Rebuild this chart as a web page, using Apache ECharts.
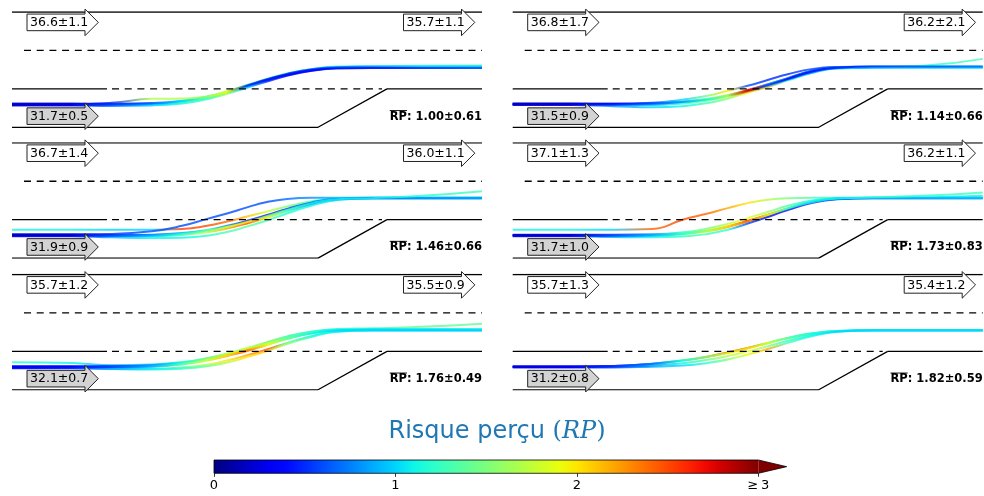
<!DOCTYPE html>
<html><head><meta charset="utf-8">
<script src="https://cdn.jsdelivr.net/npm/echarts@6/dist/echarts.min.js"></script>
<style>html,body{margin:0;padding:0;background:#fff}#c{width:984px;height:496px}</style>
</head><body><div id="c"></div>
<script>
// ---------- DATA ----------
const xSamples = [0,60,100,140,170,195,215,235,255,275,300,325,360,410,470];
const topLeftSpeeds  = ['36.6±1.1','36.8±1.7','36.7±1.4','37.1±1.3','35.7±1.2','35.7±1.3'];
const topRightSpeeds = ['35.7±1.1','36.2±2.1','36.0±1.1','36.2±1.1','35.5±0.9','35.4±1.2'];
const mergeSpeeds    = ['31.7±0.5','31.5±0.9','31.9±0.9','31.7±1.0','32.1±0.7','31.2±0.8'];
const rpMeans = ['1.00','1.14','1.46','1.73','1.76','1.82'];
const rpStds  = ['0.61','0.66','0.66','0.83','0.49','0.59'];
const colorbarTicks = [0,1,2,3];
const colorbarTickLabels = ['0','1','2','≥\u20093'];
// road geometry (x along road, y in lane widths)
const roadSolid  = [[[0,3],[470,3]], [[0,1],[95,1]], [[375,1],[470,1]], [[0,0],[306,0],[375,1]]];
const roadDashed = [[[12,2],[470,2]], [[100,1],[370,1]]];

// trajectories: lateral position (lane widths) at xSamples
const p1Y = [
 [0.60,0.60,0.59,0.61,0.67,0.78,0.92,1.08,1.24,1.38,1.50,1.56,1.57,1.57,1.58],
 [0.58,0.58,0.57,0.59,0.65,0.76,0.90,1.06,1.22,1.36,1.48,1.54,1.55,1.55,1.55],
 [0.62,0.62,0.61,0.63,0.69,0.80,0.94,1.10,1.26,1.40,1.52,1.58,1.59,1.60,1.61],
 [0.59,0.59,0.58,0.61,0.68,0.79,0.93,1.09,1.25,1.39,1.51,1.56,1.58,1.58,1.58],
 [0.60,0.60,0.64,0.74,0.75,0.80,0.92,1.07,1.23,1.37,1.49,1.55,1.57,1.57,1.57],
 [0.57,0.57,0.56,0.57,0.62,0.73,0.87,1.03,1.19,1.34,1.47,1.53,1.54,1.54,1.54]];
const p1RP = [
 [0.2,0.2,0.5,0.8,1.2,1.6,2.3,0.3,0.2,0.3,0.4,0.5,0.7,0.9,1.1],
 [0.2,0.25,0.6,0.9,1.3,1.5,2.0,0.2,0.2,0.2,0.3,0.5,0.5,0.6,0.7],
 [0.2,0.2,0.4,0.6,1.0,1.4,1.7,1.4,1.3,1.3,1.2,1.2,1.1,1.2,1.3],
 [0.15,0.2,0.5,0.7,1.0,1.3,1.8,0.6,0.5,0.5,0.6,0.8,0.9,1.0,1.0],
 [0.2,0.2,0.5,1.7,1.7,1.6,1.9,0.5,0.4,0.4,0.4,0.6,0.8,1.0,1.0],
 [0.2,0.3,0.7,1.0,1.1,1.2,1.6,1.0,0.5,0.4,0.4,0.4,0.4,0.5,0.6]];
const p2Y = [
 [0.60,0.60,0.60,0.62,0.67,0.74,0.84,0.97,1.12,1.28,1.48,1.56,1.57,1.57,1.57],
 [0.59,0.59,0.59,0.61,0.66,0.73,0.83,0.96,1.11,1.27,1.47,1.55,1.56,1.56,1.56],
 [0.61,0.61,0.61,0.64,0.72,0.82,0.95,1.08,1.23,1.38,1.52,1.57,1.58,1.58,1.58],
 [0.58,0.58,0.55,0.52,0.55,0.63,0.75,0.90,1.05,1.22,1.42,1.53,1.55,1.55,1.55],
 [0.60,0.60,0.58,0.58,0.62,0.70,0.80,0.93,1.08,1.24,1.44,1.54,1.56,1.60,1.78],
 [0.62,0.62,0.61,0.62,0.66,0.72,0.82,0.95,1.10,1.26,1.46,1.55,1.58,1.58,1.58]];
const p2RP = [
 [0.2,0.2,0.4,0.6,0.9,1.2,1.7,2.6,0.6,0.4,0.4,0.5,0.6,0.7,0.8],
 [0.2,0.2,0.5,0.8,1.1,1.5,2.0,2.7,1.2,0.9,0.8,0.8,0.9,1.0,1.0],
 [0.2,0.2,0.4,0.6,1.0,1.5,2.0,0.6,0.5,0.5,0.6,0.7,0.8,0.9,1.0],
 [0.2,0.3,0.8,1.0,1.1,1.3,1.5,1.9,2.2,1.2,0.9,0.9,0.9,1.0,1.0],
 [0.2,0.2,0.6,0.9,1.2,1.4,1.8,2.4,0.9,0.7,0.7,0.9,1.0,1.2,1.3],
 [0.15,0.2,0.4,0.6,0.8,1.1,1.5,2.8,0.5,0.3,0.4,0.4,0.5,0.6,0.7]];
const p3Y = [
 [0.74,0.74,0.74,0.74,0.76,0.84,0.95,1.08,1.21,1.34,1.48,1.55,1.57,1.57,1.57],
 [0.62,0.62,0.63,0.70,0.84,1.02,1.16,1.32,1.46,1.54,1.57,1.57,1.57,1.57,1.57],
 [0.60,0.60,0.59,0.60,0.64,0.72,0.82,0.95,1.10,1.26,1.44,1.54,1.57,1.57,1.57],
 [0.58,0.58,0.57,0.57,0.60,0.67,0.77,0.90,1.05,1.22,1.41,1.53,1.56,1.56,1.56],
 [0.57,0.57,0.54,0.52,0.53,0.58,0.68,0.82,0.98,1.16,1.37,1.51,1.56,1.56,1.56],
 [0.61,0.61,0.60,0.61,0.65,0.73,0.84,0.97,1.12,1.28,1.45,1.54,1.56,1.56,1.56],
 [0.59,0.59,0.58,0.59,0.63,0.71,0.81,0.94,1.09,1.25,1.43,1.53,1.56,1.62,1.74]];
const p3RP = [
 [1.1,1.1,1.0,1.0,2.5,2.5,2.4,2.1,1.8,1.5,1.3,1.1,1.0,1.0,1.0],
 [0.2,0.3,0.5,0.6,0.6,0.6,0.6,0.6,0.6,0.7,0.8,0.9,0.9,0.9,1.0],
 [0.2,0.2,0.6,0.9,1.2,1.6,1.9,2.1,1.8,1.4,1.2,1.1,1.0,1.0,1.0],
 [0.2,0.3,0.7,1.0,1.3,1.7,2.2,2.5,2.0,1.2,0.7,0.6,0.6,0.7,0.8],
 [0.3,0.4,0.9,1.1,1.1,1.2,1.3,1.4,1.3,1.2,1.1,1.0,1.0,1.0,1.0],
 [0.2,0.2,0.5,0.7,0.9,1.1,0.8,0.5,0.5,0.5,0.6,0.7,0.7,0.8,0.8],
 [0.2,0.2,0.6,0.9,1.2,1.5,1.8,2.0,1.6,1.3,1.1,1.1,1.1,1.2,1.3]];
const p4Y = [
 [0.74,0.74,0.74,0.76,1.00,1.16,1.30,1.43,1.52,1.56,1.57,1.57,1.57,1.58,1.62],
 [0.60,0.60,0.59,0.60,0.64,0.72,0.83,0.97,1.13,1.30,1.47,1.55,1.57,1.57,1.57],
 [0.58,0.58,0.57,0.58,0.62,0.70,0.81,0.96,1.12,1.29,1.46,1.54,1.56,1.56,1.56],
 [0.57,0.57,0.55,0.54,0.56,0.63,0.74,0.90,1.07,1.25,1.44,1.53,1.56,1.56,1.56],
 [0.61,0.61,0.61,0.62,0.67,0.77,0.89,1.04,1.20,1.36,1.50,1.56,1.57,1.57,1.57],
 [0.59,0.59,0.58,0.59,0.63,0.71,0.82,0.96,1.12,1.29,1.46,1.55,1.58,1.62,1.71]];
const p4RP = [
 [1.1,1.1,1.0,2.4,2.5,2.4,2.2,2.0,1.7,1.5,1.3,1.2,1.1,1.1,1.1],
 [0.2,0.2,0.6,0.9,1.3,1.7,2.1,2.5,2.2,1.5,1.1,1.0,1.0,1.0,1.0],
 [0.2,0.3,0.7,1.0,1.4,1.8,2.3,2.7,2.4,1.2,0.8,0.7,0.7,0.8,0.8],
 [0.3,0.4,0.9,1.1,1.2,1.3,1.2,0.6,0.4,0.4,0.5,0.6,0.7,0.7,0.8],
 [0.2,0.2,0.5,0.8,1.2,1.5,1.7,1.9,1.6,1.3,1.1,1.0,1.0,1.0,1.0],
 [0.2,0.2,0.6,0.9,1.2,1.6,2.0,2.3,1.9,1.3,1.1,1.1,1.2,1.2,1.3]];
const p5Y = [
 [0.72,0.70,0.64,0.66,0.72,0.82,0.94,1.08,1.24,1.39,1.52,1.58,1.60,1.64,1.72],
 [0.60,0.60,0.60,0.63,0.70,0.80,0.91,1.04,1.19,1.34,1.48,1.55,1.56,1.56,1.56],
 [0.59,0.59,0.58,0.60,0.66,0.76,0.88,1.01,1.16,1.32,1.47,1.54,1.55,1.55,1.55],
 [0.57,0.57,0.55,0.55,0.58,0.65,0.76,0.90,1.05,1.22,1.40,1.52,1.55,1.55,1.55],
 [0.56,0.56,0.54,0.53,0.55,0.61,0.71,0.85,1.01,1.19,1.38,1.51,1.54,1.54,1.54],
 [0.61,0.61,0.61,0.64,0.71,0.82,0.94,1.08,1.23,1.38,1.51,1.57,1.58,1.58,1.58],
 [0.60,0.60,0.59,0.61,0.67,0.77,0.89,1.03,1.18,1.33,1.47,1.54,1.56,1.56,1.56]];
const p5RP = [
 [1.2,1.1,0.9,1.0,1.2,1.5,1.6,1.5,1.4,1.4,1.3,1.3,1.3,1.4,1.4],
 [0.4,0.4,0.5,0.8,1.3,1.8,2.2,2.0,1.7,1.4,1.2,1.1,1.1,1.1,1.1],
 [0.4,0.4,0.6,0.9,1.4,1.9,2.3,2.5,2.0,1.5,1.2,1.1,1.1,1.0,1.0],
 [0.4,0.4,0.7,1.0,1.3,1.7,2.0,2.2,2.5,1.3,1.1,1.0,1.0,1.0,1.0],
 [0.4,0.5,0.9,1.1,1.2,1.4,1.7,2.0,2.1,1.6,1.2,1.1,1.0,1.0,1.0],
 [0.4,0.4,0.5,0.8,1.1,1.4,1.7,1.8,1.6,1.3,1.2,1.1,1.1,1.1,1.2],
 [0.3,0.4,0.6,0.9,1.3,1.7,2.0,2.3,1.9,1.4,1.1,1.0,1.0,1.0,1.0]];
const p6Y = [
 [0.60,0.60,0.62,0.68,0.77,0.87,0.97,1.09,1.22,1.35,1.47,1.53,1.55,1.55,1.55],
 [0.59,0.59,0.61,0.67,0.76,0.86,0.97,1.09,1.22,1.35,1.47,1.53,1.55,1.55,1.55],
 [0.58,0.58,0.58,0.60,0.63,0.70,0.79,0.92,1.06,1.22,1.40,1.51,1.54,1.54,1.54],
 [0.61,0.61,0.62,0.68,0.76,0.86,0.96,1.08,1.21,1.34,1.46,1.53,1.55,1.55,1.55],
 [0.60,0.60,0.60,0.63,0.69,0.78,0.88,1.00,1.13,1.27,1.43,1.52,1.55,1.55,1.55]];
const p6RP = [
 [0.25,0.3,0.5,0.8,1.5,1.6,1.6,1.5,1.4,1.3,1.2,1.1,1.1,1.1,1.1],
 [0.25,0.3,0.5,0.8,1.3,2.3,2.6,2.4,1.7,1.3,1.1,1.1,1.0,1.0,1.0],
 [0.25,0.3,0.6,0.9,1.0,1.2,1.5,1.9,2.2,1.3,1.1,1.0,1.0,1.0,1.0],
 [0.25,0.3,0.5,0.7,1.1,1.5,1.9,2.0,1.8,1.4,1.2,1.1,1.1,1.1,1.1],
 [0.25,0.3,0.5,0.8,1.1,1.4,1.7,1.9,1.5,1.2,1.1,1.0,1.0,1.0,1.0]];

const panelY  = [p1Y, p2Y, p3Y, p4Y, p5Y, p6Y];
const panelRP = [p1RP, p2RP, p3RP, p4RP, p5RP, p6RP];

// ---------- HELPERS ----------
const RP_MAX = 3, X_MAX = 470;
function jetColor(t) {
  t = Math.max(0, Math.min(1, t));
  const seg = pts => { for (let k = 1; k < pts.length; k++) { if (t <= pts[k][0]) { const a = pts[k-1], b = pts[k]; return a[1] + (b[1]-a[1])*(t-a[0])/(b[0]-a[0]); } } return pts[pts.length-1][1]; };
  const r = seg([[0,0],[0.35,0],[0.66,1],[0.89,1],[1,0.5]]);
  const g = seg([[0,0],[0.125,0],[0.375,1],[0.64,1],[0.91,0],[1,0]]);
  const b = seg([[0,0.5],[0.11,1],[0.34,1],[0.65,0],[1,0]]);
  return 'rgb(' + Math.round(r*255) + ',' + Math.round(g*255) + ',' + Math.round(b*255) + ')';
}
function lineGradient(rp) {
  return new echarts.graphic.LinearGradient(0, 0, 1, 0,
    xSamples.map((x, k) => ({ offset: x / X_MAX, color: jetColor(rp[k] / RP_MAX) })));
}
const FONT = '"DejaVu Sans", sans-serif';
const measureCtx = document.createElement('canvas').getContext('2d');
function textWidth(str, font) { measureCtx.font = font; return measureCtx.measureText(str).width; }

// ---------- OPTION ----------
const gridLefts = [12, 512.7], gridTops = [12, 142.8, 274.5];
const grids = [], xAxes = [], yAxes = [], series = [];
for (let i = 0; i < 6; i++) {
  const row = Math.floor(i / 2), col = i % 2;
  grids.push({ left: gridLefts[col], top: gridTops[row], width: 470, height: 115.3 });
  xAxes.push({ gridIndex: i, type: 'value', min: 0, max: X_MAX, show: false });
  yAxes.push({ gridIndex: i, type: 'value', min: 0, max: 3, show: false });
  panelY[i].forEach((ys, t) => {
    series.push({ type: 'line', xAxisIndex: i, yAxisIndex: i, symbol: 'none', smooth: 0.5,
      data: xSamples.map((x, k) => [x, ys[k]]), z: 2, silent: true,
      lineStyle: { width: 2, opacity: 0.8, color: lineGradient(panelRP[i][t]) } });
  });
  roadSolid.forEach(seg => series.push({ type: 'line', xAxisIndex: i, yAxisIndex: i, symbol: 'none', data: seg, z: 3, silent: true,
    lineStyle: { color: '#000', width: 1.3 } }));
  roadDashed.forEach(seg => series.push({ type: 'line', xAxisIndex: i, yAxisIndex: i, symbol: 'none', data: seg, z: 3, silent: true,
    lineStyle: { color: '#000', width: 1.3, type: [7, 5.7] } }));
  const labels = [topLeftSpeeds[i], topRightSpeeds[i], mergeSpeeds[i]];
  series.push({ type: 'custom', xAxisIndex: i, yAxisIndex: i, z: 4, silent: true, clip: false,
    data: [[15, 2.73, 0], [391.5, 2.73, 0], [15, 0.29, 1]],
    renderItem: (params, api) => {
      const p = api.coord([api.value(0), api.value(1)]);
      const x = p[0], y = p[1], bw = 58, bh = 8.3, hl = 13.3, hh = 13.3;
      const pts = [[x, y-bh], [x+bw, y-bh], [x+bw, y-hh], [x+bw+hl, y], [x+bw, y+hh], [x+bw, y+bh], [x, y+bh]];
      return { type: 'group', children: [
        { type: 'polygon', shape: { points: pts }, style: { fill: api.value(2) ? '#d3d3d3' : '#fff', stroke: '#222', lineWidth: 1 } },
        { type: 'text', style: { text: labels[params.dataIndex], x: x + 3, y: y + 0.5, fontSize: 12.5, fontFamily: FONT, fill: '#000', align: 'left', verticalAlign: 'middle' } }
      ] };
    } });
  series.push({ type: 'custom', xAxisIndex: i, yAxisIndex: i, z: 4, silent: true, clip: false,
    data: [[X_MAX, 0.28]],
    renderItem: (params, api) => {
      const p = api.coord([api.value(0), api.value(1)]);
      const font = 'bold 11.5px ' + FONT;
      const rest = ': ' + rpMeans[i] + '±' + rpStds[i];
      const wRP = textWidth('RP', font), wTotal = textWidth('RP' + rest, font);
      const x0 = p[0] - wTotal;
      return { type: 'group', children: [
        { type: 'text', style: { text: 'RP' + rest, x: x0, y: p[1], font: font, fill: '#000', align: 'left', verticalAlign: 'middle' } },
        { type: 'line', shape: { x1: x0, y1: p[1] - 6, x2: x0 + wRP, y2: p[1] - 6 }, style: { stroke: '#000', lineWidth: 0.9 } }
      ] };
    } });
}
// colorbar
grids.push({ left: 214, top: 460, width: 544.3, height: 13.3 });
xAxes.push({ gridIndex: 6, type: 'value', min: 0, max: RP_MAX, interval: 1, position: 'bottom',
  axisLine: { show: false }, splitLine: { show: false },
  axisTick: { show: true, length: 3.5, lineStyle: { color: '#000', width: 0.8 } },
  axisLabel: { fontSize: 13, fontFamily: FONT, color: '#000', margin: 6,
    formatter: v => colorbarTickLabels[colorbarTicks.indexOf(v)] } });
yAxes.push({ gridIndex: 6, type: 'value', min: 0, max: 1, show: false });
const cbStops = [];
for (let k = 0; k <= 30; k++) cbStops.push({ offset: k / 30, color: jetColor(k / 30) });
series.push({ type: 'custom', xAxisIndex: 6, yAxisIndex: 6, clip: false, silent: true, z: 2,
  data: [[0, 0]],
  renderItem: (params, api) => {
    const a = api.coord([0, 0]), b = api.coord([RP_MAX, 1]);
    const top = b[1], bot = a[1], mid = (top + bot) / 2, tip = b[0] + 28.4;
    return { type: 'group', children: [
      { type: 'rect', shape: { x: a[0], y: top, width: b[0] - a[0], height: bot - top },
        style: { fill: new echarts.graphic.LinearGradient(0, 0, 1, 0, cbStops) } },
      { type: 'polygon', shape: { points: [[b[0], top], [tip, mid], [b[0], bot]] }, style: { fill: jetColor(1) } },
      { type: 'polygon', shape: { points: [[a[0], top], [b[0], top], [tip, mid], [b[0], bot], [a[0], bot]] },
        style: { fill: 'none', stroke: '#000', lineWidth: 0.8 } }
    ] };
  } });

const chart = echarts.init(document.getElementById('c'), null, { renderer: 'canvas' });
chart.setOption({
  animation: false,
  backgroundColor: '#fff',
  grid: grids, xAxis: xAxes, yAxis: yAxes, series: series,
  graphic: [{ type: 'text', x: 497, y: 432, silent: true,
    style: { text: '{a|Risque perçu }{b|(}{c|RP}{b|)}', align: 'center', verticalAlign: 'middle',
      rich: { a: { fontFamily: FONT, fontSize: 24, fill: '#1f77b4' },
              b: { fontFamily: '"DejaVu Serif", serif', fontSize: 24, fill: '#1f77b4' },
              c: { fontFamily: '"DejaVu Serif", serif', fontStyle: 'italic', fontSize: 24, fill: '#1f77b4' } } } }]
});
</script></body></html>
